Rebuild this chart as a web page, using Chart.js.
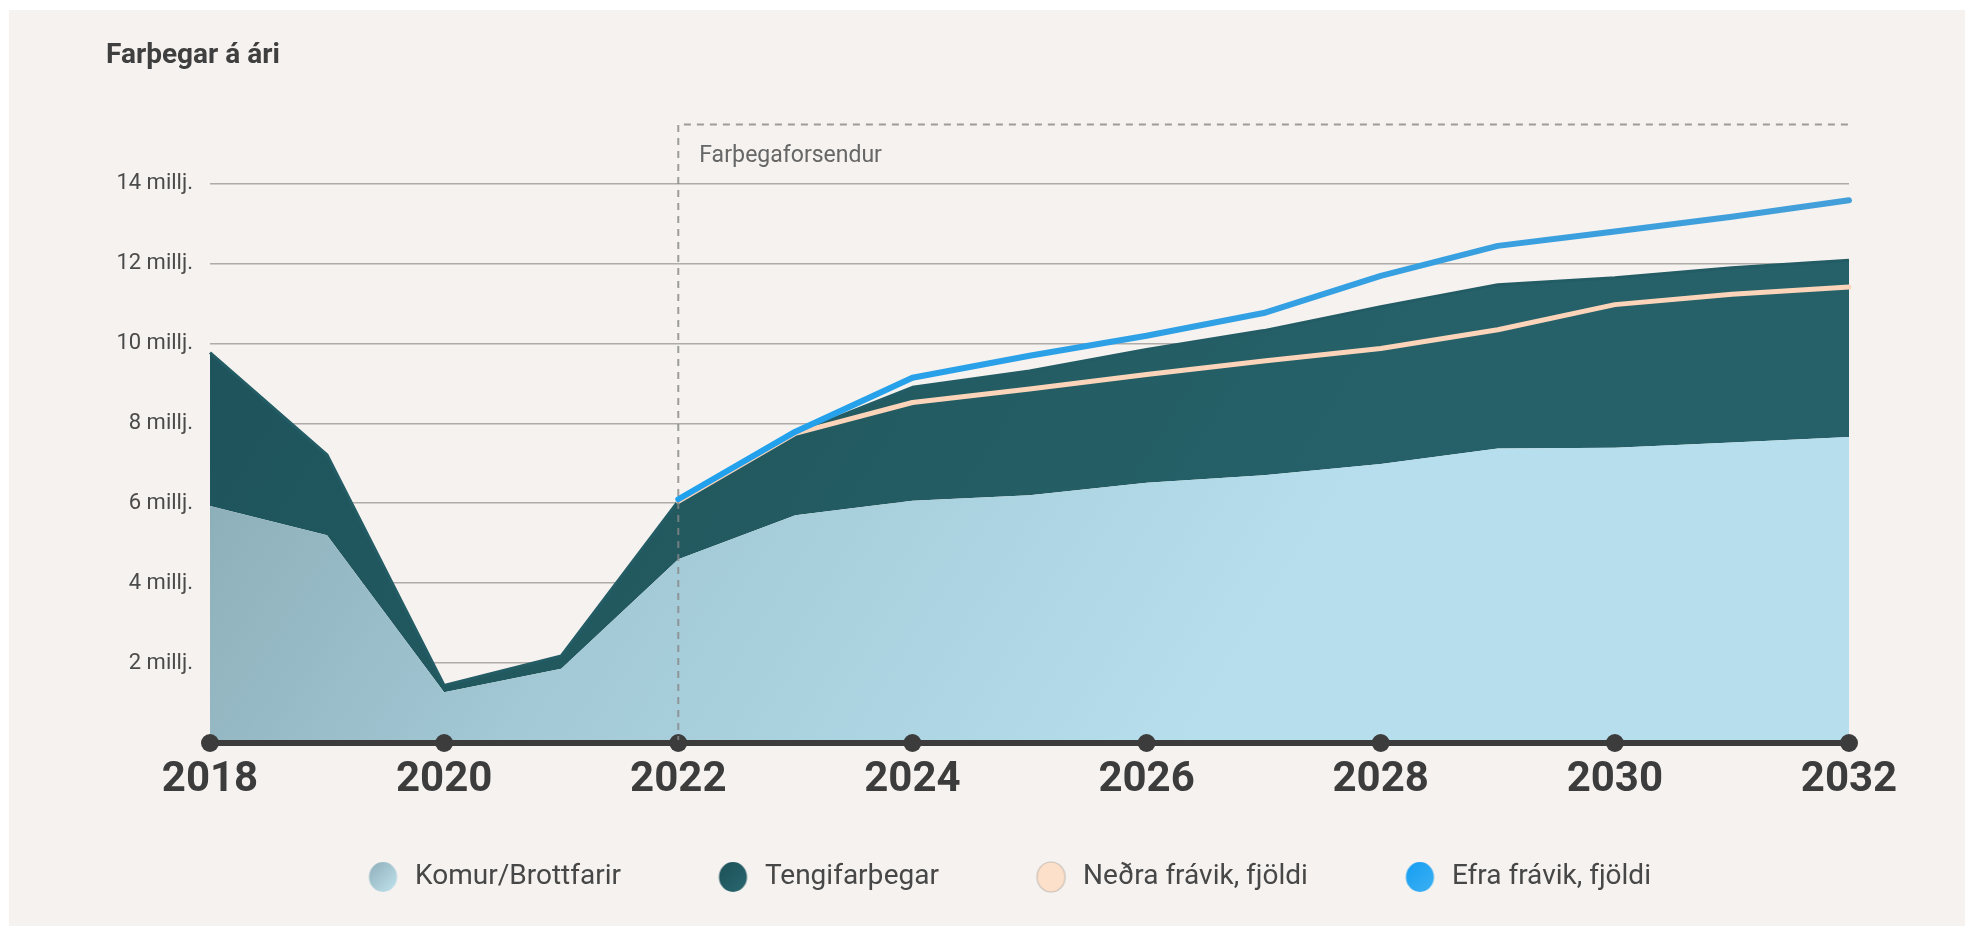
<!DOCTYPE html>
<html lang="is">
<head>
<meta charset="utf-8">
<title>Farþegar á ári</title>
<script src="https://cdn.jsdelivr.net/npm/chart.js@4.4.1/dist/chart.umd.min.js"></script>
<style>
  html, body { margin: 0; padding: 0; background: #fff; overflow: hidden; }
  .panel { position: absolute; left: 9px; top: 10px; right: 0; bottom: 0; background: #f5f2ef; }
  .wrap { position: absolute; left: 0; top: 0; width: 1965px; height: 926px; }
</style>
</head>
<body>
<div class="panel"></div>
<div class="wrap"><canvas id="chart"></canvas></div>
<script>
// Farþegar á ári (milljónir)
const years     = [2018, 2019, 2020, 2021, 2022, 2023, 2024, 2025, 2026, 2027, 2028, 2029, 2030, 2031, 2032];
const tickYears = [2018, 2020, 2022, 2024, 2026, 2028, 2030, 2032];
const komur     = [5.93, 5.20, 1.27, 1.86, 4.60, 5.70, 6.06, 6.20, 6.51, 6.70, 6.98, 7.37, 7.39, 7.52, 7.66];
const tengi     = [3.84, 2.01, 0.17, 0.32, 1.45, 2.04, 2.84, 3.11, 3.34, 3.62, 3.94, 4.10, 4.25, 4.37, 4.42];
const nedra     = [null, null, null, null, 6.05, 7.75, 8.52, 8.86, 9.22, 9.56, 9.87, 10.34, 10.97, 11.23, 11.41];
const efra      = [null, null, null, null, 6.10, 7.79, 9.14, 9.69, 10.19, 10.76, 11.69, 12.44, 12.80, 13.17, 13.58];
const seriesNames = ['Komur/Brottfarir', 'Tengifarþegar', 'Neðra frávik, fjöldi', 'Efra frávik, fjöldi'];
const forecastFrom = 2022;
const forecastLabel = 'Farþegaforsendur';
const unit = ' millj.';

const FONT = 'Roboto';

function areaGradient(stops) {
  return ctx => {
    const a = ctx.chart.chartArea;
    if (!a) return stops[0];
    const g = ctx.chart.ctx.createLinearGradient(a.left, a.top, a.left + a.width * 0.6, a.bottom);
    stops.forEach((c, i) => g.addColorStop(i / (stops.length - 1), c));
    return g;
  };
}

function lineGradient(c1, c2) {
  return ctx => {
    const a = ctx.chart.chartArea;
    if (!a) return c1;
    const g = ctx.chart.ctx.createLinearGradient(a.left, 0, a.right, 0);
    g.addColorStop(0, c1); g.addColorStop(1, c2);
    return g;
  };
}

// legend marker: oval drawn towards the right of a wide transparent image
function legendDot(fill, stroke) {
  const c = document.createElement('canvas');
  c.width = 92; c.height = 32;
  const g = c.getContext('2d');
  g.beginPath();
  g.ellipse(76.5, 16, 14, 15, 0, 0, Math.PI * 2);
  if (Array.isArray(fill)) {
    const gr = g.createLinearGradient(62, 2, 90, 30);
    gr.addColorStop(0, fill[0]); gr.addColorStop(1, fill[1]);
    g.fillStyle = gr;
  } else g.fillStyle = fill;
  g.fill();
  if (stroke) { g.lineWidth = 1.2; g.strokeStyle = stroke; g.stroke(); }
  return c;
}

const forecastBox = {
  id: 'forecastBox',
  afterDatasetsDraw(chart) {
    const { ctx, chartArea: a, scales: { x } } = chart;
    const x0 = x.getPixelForValue(years.indexOf(forecastFrom));
    ctx.save();
    ctx.setLineDash([7, 6]);
    ctx.lineWidth = 2;
    ctx.strokeStyle = 'rgba(135,135,135,0.8)';
    ctx.beginPath();
    ctx.moveTo(x0, a.bottom);
    ctx.lineTo(x0, a.top + 1);
    ctx.lineTo(a.right, a.top + 1);
    ctx.stroke();
    ctx.setLineDash([]);
    ctx.fillStyle = '#666';
    ctx.font = '23px ' + FONT;
    ctx.textBaseline = 'alphabetic';
    ctx.fillText(forecastLabel, x0 + 21, a.top + 38);
    ctx.restore();
  }
};

new Chart(document.getElementById('chart'), {
  type: 'line',
  data: {
    labels: years,
    datasets: [
      {
        label: seriesNames[0], data: komur, stack: 'farthegar',
        fill: 'origin', backgroundColor: areaGradient(['#82a2ab', '#a3c9d6', '#b6deec']),
        borderWidth: 0, pointRadius: 0, pointStyle: legendDot(['#8fb0ba', '#c0e2ee']), order: 0,
      },
      {
        label: seriesNames[1], data: tengi, stack: 'farthegar',
        fill: '-1', backgroundColor: areaGradient(['#1d525b', '#22595f', '#266169']),
        borderColor: '#235c64', borderWidth: 3, borderJoinStyle: 'round',
        pointRadius: 0, pointStyle: legendDot(['#1c5159', '#2a666e']), order: 0,
      },
      {
        label: seriesNames[2], data: nedra, stack: 'nedra', fill: false,
        borderColor: '#fbd4ba', borderWidth: 5, borderJoinStyle: 'round', borderCapStyle: 'round',
        pointRadius: 0, pointStyle: legendDot('#fde0ca', '#c9bfb6'), order: -1,
      },
      {
        label: seriesNames[3], data: efra, stack: 'efra', fill: false,
        borderColor: lineGradient('#12a2f6', '#449fd9'), borderWidth: 6, borderJoinStyle: 'round', borderCapStyle: 'round',
        pointRadius: 0, pointStyle: legendDot(['#159ef2', '#3cb0f2']), order: -2,
      },
      {
        label: 'ás', data: years.map(y => tickYears.includes(y) ? 0 : null), stack: 'as',
        showLine: false, pointRadius: 9, pointHoverRadius: 9, pointBorderWidth: 0,
        pointBackgroundColor: '#3c3c3c', clip: false, order: -3,
      },
    ]
  },
  options: {
    responsive: true,
    maintainAspectRatio: false,
    animation: false,
    events: [],
    layout: { padding: { left: 106, right: 116, top: 10, bottom: 25 } },
    plugins: {
      filler: { drawTime: 'beforeDatasetsDraw' },
      tooltip: { enabled: false },
      title: {
        display: true, text: 'Farþegar á ári', align: 'start', color: '#3f3f3f',
        font: { family: FONT, size: 28, weight: 'bold', lineHeight: 1.2 },
        padding: { top: 29, bottom: 51 },
      },
      legend: {
        position: 'bottom', align: 'center',
        labels: {
          usePointStyle: true, pointStyleWidth: 97, boxHeight: 28, padding: 33,
          color: '#474747', font: { family: FONT, size: 28 },
          filter: item => item.datasetIndex < 4,
          sort: (a, b) => a.datasetIndex - b.datasetIndex,
        },
      },
    },
    scales: {
      x: {
        type: 'category', offset: false,
        grid: { display: false, drawTicks: false },
        border: { display: true, color: '#3c3c3c', width: 6, z: 1 },
        ticks: {
          autoSkip: false, maxRotation: 0, padding: 12, color: '#3c3c3c',
          font: { family: FONT, size: 42, weight: 'bold' },
          callback: (v, i) => tickYears.includes(years[i]) ? String(years[i]) : '',
        },
        afterFit: s => { s.height = 87; },
      },
      y: {
        stacked: true, min: 0, max: 15.5,
        grid: { color: '#aeaba8', lineWidth: 1.5, drawTicks: false },
        border: { display: false },
        ticks: {
          stepSize: 2, includeBounds: false, padding: 17, color: '#4b4b4b',
          font: { family: FONT, size: 22 },
          callback: v => v === 0 ? '' : v + unit,
        },
        afterFit: s => { s.width = 104; },
      },
    },
  },
  plugins: [forecastBox],
});
</script>
</body>
</html>
